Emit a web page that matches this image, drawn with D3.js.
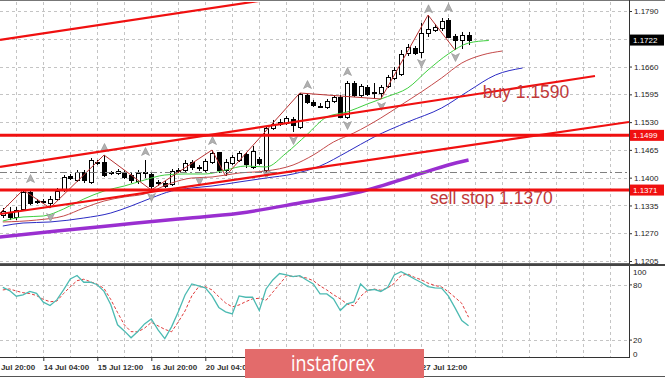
<!DOCTYPE html>
<html><head><meta charset="utf-8">
<script src="https://cdn.jsdelivr.net/npm/d3@7"></script>
<style>
html,body{margin:0;padding:0;background:#fff;}
svg{display:block;font-family:"Liberation Sans",Arial,sans-serif;}
</style></head><body>
<svg id="c" width="665" height="380"></svg>
<script>
// ---------- DATA (EURUSD H4) ----------
const barOpen = [1.13126,1.13197,1.13080,1.13267,1.13664,1.13454,1.13431,1.13407,1.13501,1.13711,
 1.14039,1.13945,1.14133,1.13899,1.14343,1.14367,1.14121,1.14109,1.14133,1.14062,
 1.13922,1.14109,1.14086,1.13875,1.13875,1.13852,1.14156,1.14179,1.14367,1.14238,
 1.14179,1.14367,1.14601,1.14179,1.14343,1.14413,1.14554,1.14250,1.14437,1.14179,
 1.15162,1.15256,1.15279,1.15373,1.15186,1.15934,1.15771,1.15688,1.15654,1.15794,
 1.15888,1.15420,1.16215,1.15934,1.16122,1.15993,1.15981,1.16145,1.16332,1.16426,
 1.16917,1.17034,1.16941,1.17385,1.17456,1.17502,1.17689,1.17315,1.17221,1.17338];
const barHigh = [1.13290,1.13314,1.13314,1.13711,1.13711,1.13501,1.13501,1.13571,1.13758,1.14062,
 1.14086,1.14179,1.14179,1.14460,1.14413,1.14530,1.14156,1.14203,1.14179,1.14109,
 1.14179,1.14413,1.14133,1.13945,1.13922,1.14203,1.14226,1.14413,1.14413,1.14296,
 1.14437,1.14647,1.14601,1.14437,1.14530,1.14624,1.14601,1.14741,1.14484,1.15209,
 1.15350,1.15373,1.15443,1.15420,1.15981,1.15958,1.15817,1.15747,1.15841,1.15934,
 1.15934,1.16262,1.16262,1.16192,1.16168,1.16215,1.16168,1.16403,1.16590,1.16987,
 1.17128,1.17081,1.17619,1.17806,1.17596,1.17736,1.17736,1.17362,1.17409,1.17409];
const barLow = [1.13056,1.13009,1.13009,1.13220,1.13360,1.13384,1.13384,1.13290,1.13454,1.13664,
 1.13945,1.13899,1.13875,1.13852,1.14296,1.14016,1.14062,1.14062,1.13969,1.13875,
 1.13852,1.13992,1.13711,1.13805,1.13758,1.13805,1.14109,1.14133,1.14179,1.14156,
 1.14133,1.14320,1.14109,1.14039,1.14296,1.14367,1.14226,1.14203,1.14296,1.14133,
 1.15115,1.15209,1.15232,1.15069,1.15139,1.15724,1.15654,1.15630,1.15607,1.15747,
 1.15396,1.15373,1.15888,1.15888,1.15911,1.15864,1.15841,1.16098,1.16285,1.16379,
 1.16847,1.16870,1.16800,1.17292,1.17409,1.17432,1.17268,1.16987,1.17011,1.17104];
const barClose = [1.13220,1.13080,1.13244,1.13664,1.13407,1.13431,1.13445,1.13501,1.13688,1.14016,
 1.13992,1.14133,1.13945,1.14413,1.14367,1.14062,1.14109,1.14156,1.14016,1.13945,
 1.14109,1.14121,1.13805,1.13887,1.13805,1.14156,1.14168,1.14343,1.14250,1.14226,
 1.14390,1.14577,1.14179,1.14367,1.14484,1.14577,1.14320,1.14624,1.14343,1.15162,
 1.15256,1.15303,1.15396,1.15232,1.15958,1.15771,1.15700,1.15677,1.15794,1.15888,
 1.15420,1.16215,1.15934,1.16145,1.15958,1.15981,1.16122,1.16356,1.16520,1.16894,
 1.17058,1.16917,1.17385,1.17479,1.17526,1.17666,1.17292,1.17221,1.17338,1.17221];

// Alligator lines (bar index, price)
const lipsIdx  = [0,3,6,9,12,15,18,21,24,27,30,33,36,39,42,45,48,51,54,57,60,63,66,69,72];
const lipsVal  = [1.12986,1.13080,1.13103,1.13267,1.13501,1.13688,1.13805,1.13945,1.14062,1.14086,1.14086,1.14179,1.14273,1.14250,1.14577,1.14998,1.15420,1.15537,1.15724,1.15899,1.16098,1.16520,1.16894,1.17151,1.17210];
const teethIdx = [0,5,9,12,15,18,21,25,28,31,35,39,43,46,49,52,56,59,62,65,68,71,74];
const teethVal = [1.12963,1.13009,1.13103,1.13290,1.13454,1.13548,1.13618,1.13875,1.13992,1.14016,1.14109,1.14156,1.14296,1.14530,1.14835,1.15045,1.15396,1.15700,1.16005,1.16332,1.16683,1.16870,1.16964];
const jawIdx   = [0,3,7,12,16,19,22,25,28,31,35,39,43,47,51,55,60,65,69,73,77];
const jawVal   = [1.12869,1.12939,1.12963,1.13056,1.13173,1.13337,1.13524,1.13688,1.13758,1.13805,1.13899,1.13992,1.14086,1.14273,1.14601,1.14952,1.15303,1.15630,1.16028,1.16403,1.16566];
// long moving average (purple)
const maIdx = [-0.5,8,17,26,35,44,53,62,66,69];
const maVal = [1.12612,1.12752,1.12893,1.13033,1.13167,1.13408,1.13672,1.14103,1.14297,1.14414];
// ZigZag
const zzIdx = [-1,3,7,15,22,31,33,44,56,63,67];
const zzVal = [1.13080,1.13711,1.13290,1.14530,1.13711,1.14647,1.14039,1.15981,1.15841,1.17806,1.16987];
// Fractals
const fracUpIdx = [4,15,21,31,45,51,63,66];
const fracUpVal = [1.13969,1.14694,1.14601,1.14858,1.16168,1.16473,1.17940,1.17970];
const fracDnIdx = [7,22,29,39,43,51,56,62,67];
const fracDnVal = [1.13080,1.13548,1.13922,1.14086,1.14881,1.15232,1.15677,1.16683,1.16824];
// Stochastic
const stochK = [77.4,73.8,67.7,69.2,73,70.9,61.2,57.5,63.7,74.5,
 86.4,90.2,82.9,82.9,80.2,73,58.5,36.6,30,22.5,
 29.3,37.6,43,31.1,21.7,34.4,50.7,69.1,81,78.9,
 76.7,68,55.5,50.7,48.5,68,66.6,66.6,52.1,75.6,
 85.4,92.4,90.8,88.9,90,85.4,81,70.2,70.2,64.8,
 52.1,59.3,61.5,81,74,75,72.9,77.2,90.8,94.3,
 90.6,86.4,82.6,78.2,76.7,76.5,68,55,41.2,35.5];
const stochD = [74.5,75.6,73.4,71.5,70.6,68.4,64.3,61.7,62.4,70.6,
 78,84.6,86.2,83.4,80.7,76.1,64.1,50,36.6,29.2,
 29,33,39.2,35.5,31.7,29,39.8,51.7,68,77.8,
 78.1,74.5,67.2,60.4,56.1,58.2,61.8,64.8,65.5,63.3,
 72.1,80.7,89.7,89.4,88.9,87.5,84.6,78.9,74.5,69.3,
 64.8,59.3,57.2,67.5,74,75.5,74.2,76.6,81.7,90.2,
 91.8,88.2,85.6,81.9,79.4,77.8,72.6,66.4,59.9,44.9];
const stochLevels = [80, 20];
const stochLabels = [100, 80, 20, 0];
// Objects
const trendStartIdx = [-0.415, -0.415, -0.415];
const trendStartVal = [1.17222, 1.14250, 1.13150];
const trendEndIdx   = [44.03, 87.73, 92.77];
const trendEndVal   = [1.18279, 1.16379, 1.15303];
const hLevels = [1.1499, 1.1371];
const dashLevel = 1.1414;
const notes = ["buy 1.1590", "sell stop 1.1370"];
const noteIdx = [71.1, 63.3];
const noteVal = [1.15864, 1.13384];
// Axes
const priceTicks = [1.1205,1.1270,1.1335,1.1400,1.1465,1.1530,1.1595,1.1660,1.1725,1.1790];
const priceMarks = [1.1722, 1.1499, 1.1371];
const timeTickIdx = [-2,6,14,22,30,62];
const timeTickLabels = ["10 Jul 20:00","14 Jul 04:00","15 Jul 12:00","16 Jul 20:00","20 Jul 04:00","27 Jul 12:00"];

// ---------- LAYOUT ----------
const plotR = 629, mainTop = 2, mainBot = 263, stTop = 266, stBot = 358;
const svg = d3.select("#c");
const x = d3.scaleLinear().domain([0, 92]).range([2.8, 2.8 + 6.75 * 92]);
const y = d3.scaleLinear().domain([1.1205, 1.1790]).range([261, 11]);
const ys = d3.scaleLinear().domain([0, 100]).range([358.5, 266.5]);

const defs = svg.append("defs");
defs.append("clipPath").attr("id","cm").append("rect").attr("x",0).attr("y",mainTop).attr("width",plotR).attr("height",mainBot-mainTop);
defs.append("clipPath").attr("id","cs").append("rect").attr("x",0).attr("y",stTop).attr("width",plotR).attr("height",stBot-stTop);

// grid
const gridIdx = d3.range(2, 92, 4);
const grid = svg.append("g").attr("stroke","#c4c4c4").attr("stroke-dasharray","3,3").attr("stroke-width",1);
grid.selectAll("line.v").data(gridIdx).join("line")
  .attr("x1",d=>Math.round(x(d))+0.5).attr("x2",d=>Math.round(x(d))+0.5).attr("y1",mainTop).attr("y2",mainBot);
grid.selectAll("line.vs").data(gridIdx).join("line")
  .attr("x1",d=>Math.round(x(d))+0.5).attr("x2",d=>Math.round(x(d))+0.5).attr("y1",stTop).attr("y2",stBot);
grid.selectAll("line.h").data(priceTicks).join("line")
  .attr("x1",0).attr("x2",plotR).attr("y1",d=>Math.round(y(d))+0.5).attr("y2",d=>Math.round(y(d))+0.5);
grid.selectAll("line.s").data(stochLevels).join("line")
  .attr("x1",0).attr("x2",plotR).attr("y1",d=>Math.round(ys(d))+0.5).attr("y2",d=>Math.round(ys(d))+0.5);

const main = svg.append("g").attr("clip-path","url(#cm)");

// candles
const bars = d3.range(barOpen.length);
const cg = main.append("g");
cg.selectAll("line").data(bars).join("line")
  .attr("x1",i=>Math.round(x(i))+0.5).attr("x2",i=>Math.round(x(i))+0.5)
  .attr("y1",i=>y(barHigh[i])).attr("y2",i=>y(barLow[i]))
  .attr("stroke","#000").attr("stroke-width",1);
cg.selectAll("rect").data(bars).join("rect")
  .attr("x",i=>Math.round(x(i))-1.5).attr("width",4)
  .attr("y",i=>Math.round(y(Math.max(barOpen[i],barClose[i])))+0.5)
  .attr("height",i=>Math.max(1,Math.round(Math.abs(y(barOpen[i])-y(barClose[i])))))
  .attr("fill",i=>barClose[i]>=barOpen[i]?"#fff":"#000")
  .attr("stroke","#000").attr("stroke-width",1);

// lines helper
const ln = d3.line().x(d=>x(d[0])).y(d=>y(d[1])).curve(d3.curveMonotoneX);
const zip = (a,b)=>a.map((v,k)=>[v,b[k]]);
main.append("path").attr("d",ln(zip(maIdx,maVal))).attr("fill","none").attr("stroke","#9a2fd0").attr("stroke-width",3.5);
main.append("path").attr("d",ln(zip(jawIdx,jawVal))).attr("fill","none").attr("stroke","#2b2bc4").attr("stroke-width",1);
main.append("path").attr("d",ln(zip(teethIdx,teethVal))).attr("fill","none").attr("stroke","#c44a4a").attr("stroke-width",1);
main.append("path").attr("d",ln(zip(lipsIdx,lipsVal))).attr("fill","none").attr("stroke","#3fcf3f").attr("stroke-width",1);
const lnStraight = d3.line().x(d=>x(d[0])).y(d=>y(d[1]));
main.append("path").attr("d",lnStraight(zip(zzIdx,zzVal))).attr("fill","none").attr("stroke","#b83232").attr("stroke-width",1);

// fractals
const upPath = "M0,-4.5 L4,3.5 L0,1.5 L-4,3.5 Z";
const dnPath = "M0,4.5 L4,-3.5 L0,-1.5 L-4,-3.5 Z";
main.selectAll("path.fu").data(zip(fracUpIdx,fracUpVal)).join("path")
  .attr("d",upPath).attr("transform",d=>`translate(${Math.round(x(d[0]))+0.5},${y(d[1])})`)
  .attr("fill","#b0b0b0").attr("stroke","#909090").attr("stroke-width",0.6);
main.selectAll("path.fd").data(zip(fracDnIdx,fracDnVal)).join("path")
  .attr("d",dnPath).attr("transform",d=>`translate(${Math.round(x(d[0]))+0.5},${y(d[1])})`)
  .attr("fill","#b0b0b0").attr("stroke","#909090").attr("stroke-width",0.6);

// objects
main.append("line").attr("x1",0).attr("x2",plotR).attr("y1",Math.round(y(dashLevel))+0.5).attr("y2",Math.round(y(dashLevel))+0.5)
  .attr("stroke","#808080").attr("stroke-width",1).attr("stroke-dasharray","7,3,2,3");
main.selectAll("line.hl").data(hLevels).join("line")
  .attr("x1",0).attr("x2",plotR).attr("y1",d=>y(d)).attr("y2",d=>y(d))
  .attr("stroke","#f01010").attr("stroke-width",3);
main.selectAll("line.tl").data(d3.range(trendStartIdx.length)).join("line")
  .attr("x1",k=>x(trendStartIdx[k])).attr("y1",k=>y(trendStartVal[k]))
  .attr("x2",k=>x(trendEndIdx[k])).attr("y2",k=>y(trendEndVal[k]))
  .attr("stroke","#f01010").attr("stroke-width",2.2);
main.selectAll("text.note").data(notes).join("text")
  .attr("x",(d,k)=>x(noteIdx[k])).attr("y",(d,k)=>y(noteVal[k]))
  .attr("font-size",17.5).attr("fill","#c03a3a").text(d=>d);

// stochastic
const st = svg.append("g").attr("clip-path","url(#cs)");
const sl = d3.line().x((d,i)=>x(i)).y(d=>ys(d));
st.append("path").attr("d",sl(stochD)).attr("fill","none").attr("stroke","#e03a3a").attr("stroke-width",1).attr("stroke-dasharray","3,2");
st.append("path").attr("d",sl(stochK)).attr("fill","none").attr("stroke","#4cbab2").attr("stroke-width",1.3);

// frames
const fr = svg.append("g").attr("stroke","#333").attr("fill","none");
fr.append("line").attr("x1",0).attr("x2",665).attr("y1",0.5).attr("y2",0.5).attr("stroke","#777");
fr.append("line").attr("x1",plotR+0.5).attr("x2",plotR+0.5).attr("y1",0).attr("y2",stBot);
fr.append("line").attr("x1",0).attr("x2",plotR).attr("y1",mainBot+0.5).attr("y2",mainBot+0.5).attr("stroke","#666");
fr.append("line").attr("x1",0).attr("x2",665).attr("y1",265).attr("y2",265).attr("stroke","#444").attr("stroke-width",2);
fr.append("line").attr("x1",0).attr("x2",plotR+1).attr("y1",stBot-0.5).attr("y2",stBot-0.5);
fr.append("line").attr("x1",0).attr("x2",665).attr("y1",376.5).attr("y2",376.5).attr("stroke","#555");

// price axis
const pa = svg.append("g").attr("transform",`translate(${plotR},0)`)
  .call(d3.axisRight(y).tickValues(priceTicks.filter(d=>d!==1.1725)).tickFormat(d3.format(".4f")).tickSize(3).tickPadding(2));
pa.select(".domain").remove();
pa.selectAll("text").attr("font-size",8).attr("fill","#222").attr("font-family","Liberation Sans, Arial, sans-serif");
pa.selectAll("line").attr("stroke","#333");
const mk = svg.append("g");
mk.selectAll("rect").data(priceMarks).join("rect")
  .attr("x",plotR+1).attr("width",34).attr("y",d=>y(d)-5.5).attr("height",11)
  .attr("fill",(d,k)=>k===0?"#000":"#f01010");
mk.selectAll("text").data(priceMarks).join("text")
  .attr("x",plotR+4).attr("y",d=>y(d)+3).attr("font-size",8).attr("fill","#fff").text(d=>d3.format(".4f")(d));

// stoch axis
const sa = svg.append("g");
sa.selectAll("text").data(stochLabels).join("text")
  .attr("x",plotR+4).attr("y",d=> d===100 ? ys(d)+8 : d===0 ? ys(d)-2 : ys(d)+3)
  .attr("font-size",8).attr("fill","#222").text(d=>d);
sa.selectAll("line").data(stochLevels).join("line")
  .attr("x1",plotR).attr("x2",plotR+3).attr("y1",d=>ys(d)).attr("y2",d=>ys(d)).attr("stroke","#333");

// time axis
const ta = svg.append("g").attr("transform",`translate(0,${stBot})`)
  .call(d3.axisBottom(x).tickValues(timeTickIdx).tickFormat((d,k)=>timeTickLabels[k]).tickSize(3).tickPadding(2));
ta.select(".domain").remove();
ta.selectAll("line").attr("stroke","#333");
ta.selectAll("text").attr("text-anchor","start").attr("x",0).attr("y",6).attr("dy","0.71em")
  .attr("font-size",8).attr("font-weight","bold").attr("fill","#333").attr("font-family","Liberation Sans, Arial, sans-serif");

// logo
svg.append("rect").attr("x",245).attr("y",349).attr("width",179).attr("height",29).attr("fill","#e36b6b");
svg.append("text").attr("x",333).attr("y",371).attr("text-anchor","middle").attr("font-size",22)
  .attr("font-family","Open Sans, Lato, sans-serif").attr("fill","#fff").attr("textLength",84).attr("lengthAdjust","spacingAndGlyphs").text("instaforex");
</script></body></html>
